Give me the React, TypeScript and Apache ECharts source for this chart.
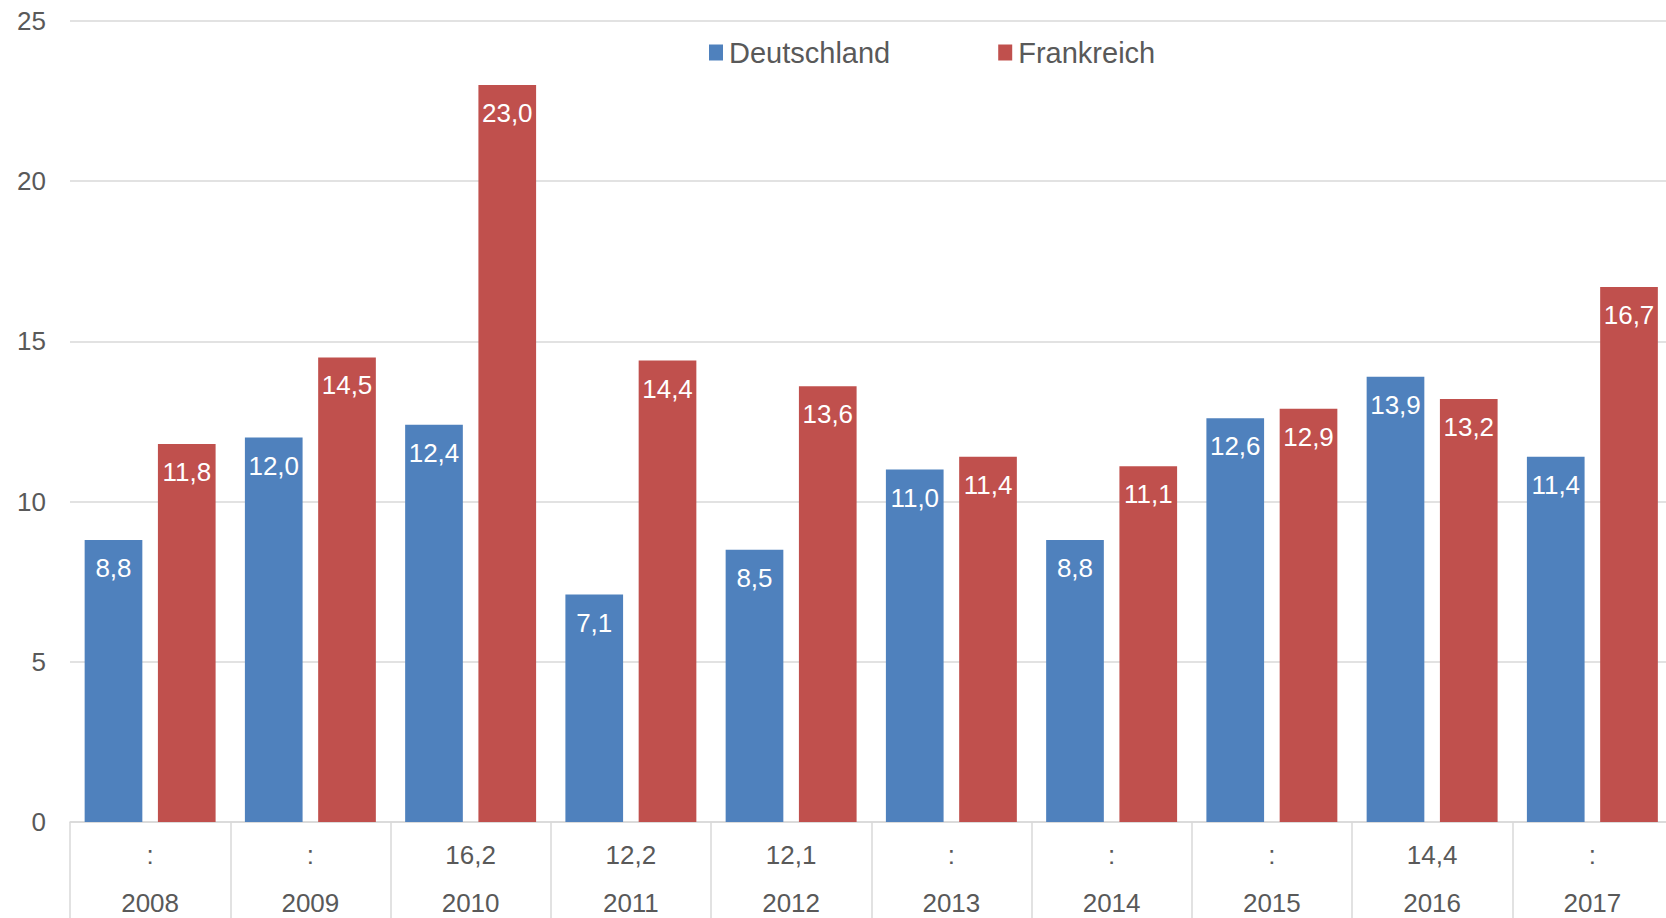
import React, { useEffect, useRef } from "react";
import * as echarts from "echarts";

const years = ["2008", "2009", "2010", "2011", "2012", "2013", "2014", "2015", "2016", "2017"];
const deutschland = [8.8, 12.0, 12.4, 7.1, 8.5, 11.0, 8.8, 12.6, 13.9, 11.4];
const frankreich = [11.8, 14.5, 23.0, 14.4, 13.6, 11.4, 11.1, 12.9, 13.2, 16.7];
const tableRow = [":", ":", "16,2", "12,2", "12,1", ":", ":", ":", "14,4", ":"];
const yTicks = { min: 0, max: 25, interval: 5 };

const FONT = "'Liberation Sans', Arial, sans-serif";
const TEXT = "#595959";
const fmt = (v: number) => v.toFixed(1).replace(".", ",");

export default function App() {
  const ref = useRef<HTMLDivElement>(null);
  useEffect(() => {
    if (!ref.current) return;
    const chart = echarts.init(ref.current, null, { renderer: "svg" });
    chart.setOption({
      animation: false,
      backgroundColor: "#ffffff",
      textStyle: { fontFamily: FONT },
      legend: {
        left: 704,
        top: 33,
        itemWidth: 14,
        itemHeight: 16,
        itemGap: 108,
        icon: "rect",
        textStyle: { fontSize: 29, color: TEXT, fontFamily: FONT, padding: [0, 0, 0, 1] },
        data: ["Deutschland", "Frankreich"],
      },
      grid: { left: 70, right: 7.5, top: 21, bottom: 96, containLabel: false },
      xAxis: {
        type: "category",
        data: years,
        axisLine: { lineStyle: { color: "#d9d9d9", width: 1.5 } },
        axisTick: { show: true, length: 96, lineStyle: { color: "#d9d9d9", width: 1.5 } },
        axisLabel: {
          interval: 0,
          margin: 8.5,
          formatter: (val: string, idx: number) => `{a|${tableRow[idx]}}\n{b|${val}}`,
          rich: {
            a: { fontSize: 26, lineHeight: 48, color: TEXT, fontFamily: FONT },
            b: { fontSize: 26, lineHeight: 48, color: TEXT, fontFamily: FONT },
          },
        },
      },
      yAxis: {
        type: "value",
        min: yTicks.min,
        max: yTicks.max,
        interval: yTicks.interval,
        axisLine: { show: false },
        axisTick: { show: false },
        axisLabel: { fontSize: 26, color: TEXT, margin: 24, fontFamily: FONT },
        splitLine: { lineStyle: { color: "#d9d9d9", width: 1.5 } },
      },
      series: [
        {
          name: "Deutschland",
          type: "bar",
          data: deutschland,
          barWidth: "36%",
          barGap: "27%",
          itemStyle: { color: "#4f81bd" },
          label: {
            show: true,
            position: "insideTop",
            distance: 15,
            color: "#ffffff",
            fontSize: 26,
            fontFamily: FONT,
            formatter: (p: any) => fmt(p.value),
          },
        },
        {
          name: "Frankreich",
          type: "bar",
          data: frankreich,
          barWidth: "36%",
          barGap: "27%",
          itemStyle: { color: "#c0504d" },
          label: {
            show: true,
            position: "insideTop",
            distance: 15,
            color: "#ffffff",
            fontSize: 26,
            fontFamily: FONT,
            formatter: (p: any) => fmt(p.value),
          },
        },
      ],
    });
    return () => chart.dispose();
  }, []);
  return (
    <div
      style={{ position: "fixed", left: 0, top: 0, width: 1666, height: 918, overflow: "hidden", background: "#ffffff" }}
    >
      <div ref={ref} style={{ width: 1680, height: 918 }} />
    </div>
  );
}
